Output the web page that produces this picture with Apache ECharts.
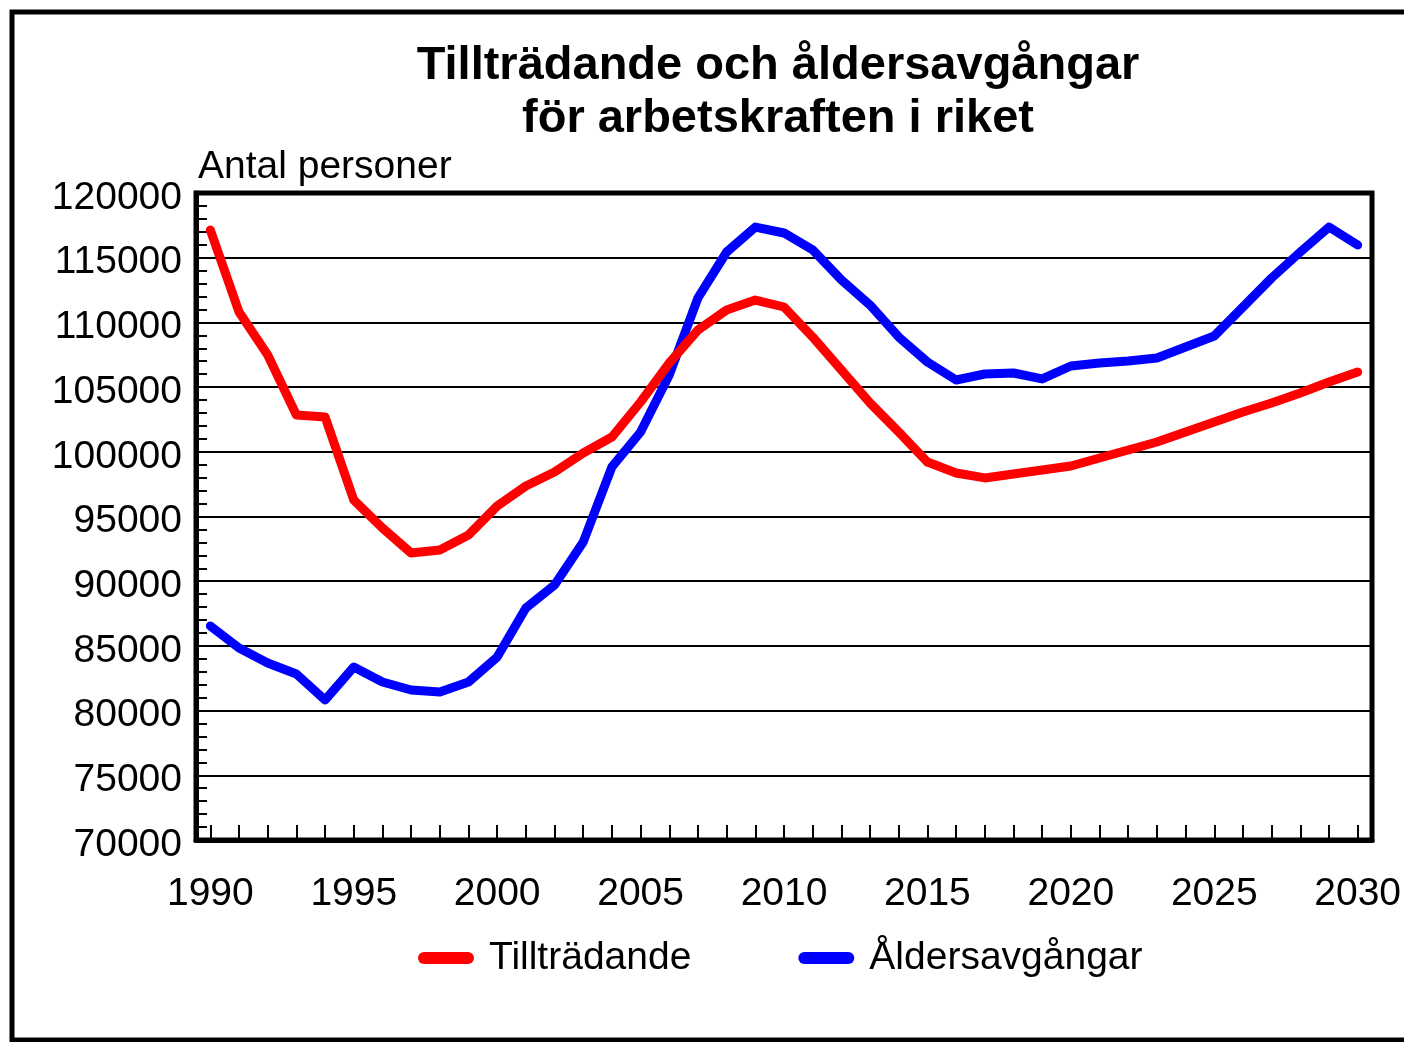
<!DOCTYPE html>
<html>
<head>
<meta charset="utf-8">
<script src="https://cdn.jsdelivr.net/npm/echarts@6/dist/echarts.min.js"></script>
<style>
  html, body { margin: 0; padding: 0; background: #fff; }
  #chart { width: 1404px; height: 1042px; }
</style>
</head>
<body>
<div id="chart"></div>
<script>
// år 1990-2030
const years = [];
for (let y = 1990; y <= 2030; y++) years.push(String(y));

const tilltradande = [
  117140, 110800, 107480, 102840, 102690, 96280, 94110, 92180, 92410, 93570,
  95810, 97360, 98440, 99910, 101140, 103850, 106860, 109410, 110960, 111730,
  111190, 108870, 106320, 103770, 101530, 99210, 98360, 97980, 98280, 98590,
  98900, 99520, 100140, 100760, 101530, 102300, 103080, 103770, 104540, 105390,
  106170
];

const aldersavgangar = [
  86540, 84840, 83680, 82830, 80820, 83370, 82210, 81590, 81440, 82210,
  84140, 87930, 89710, 93030, 98830, 101530, 105940, 111890, 115440, 117370,
  116910, 115600, 113280, 111340, 108870, 106940, 105550, 106010, 106090, 105630,
  106630, 106860, 107020, 107250, 108100, 108950, 111190, 113430, 115440, 117370,
  115980
];

const seriesNames = ['Tillträdande', 'Åldersavgångar'];
const titleLines = ['Tillträdande och åldersavgångar', 'för arbetskraften i riket'];
const yAxisName = 'Antal personer';

const font = '"Liberation Sans", Arial, sans-serif';
const chart = echarts.init(document.getElementById('chart'));

const capsule = 'path://M6,0 L50,0 A6,6 0 0 1 50,12 L6,12 A6,6 0 0 1 6,0 Z';

chart.setOption({
  backgroundColor: '#fff',
  animation: false,
  textStyle: { fontFamily: font },
  graphic: [
    {
      type: 'rect',
      shape: { x: 12, y: 12, width: 1500, height: 1028 },
      style: { fill: 'none', stroke: '#000', lineWidth: 5 },
      silent: true
    },
    {
      type: 'text',
      style: {
        x: 778, y: 40,
        text: titleLines.join('\n'),
        fontFamily: font, fontSize: 47, fontWeight: 'bold',
        lineHeight: 53, fill: '#000',
        textAlign: 'center', textVerticalAlign: 'top'
      }
    },
    {
      type: 'text',
      style: {
        x: 198, y: 148,
        text: yAxisName,
        fontFamily: font, fontSize: 39, lineHeight: 39, fill: '#000',
        textAlign: 'left', textVerticalAlign: 'top'
      }
    }
  ],
  legend: {
    data: seriesNames,
    left: 418,
    top: 938,
    padding: 0,
    itemWidth: 56,
    itemHeight: 12,
    itemGap: 107,
    icon: capsule,
    textStyle: { fontFamily: font, fontSize: 39, color: '#000', lineHeight: 40, padding: [0, 0, 0, 10] }
  },
  grid: {
    left: 196, right: 27, top: 193, bottom: 202,
    show: true, borderColor: '#000', borderWidth: 5,
    containLabel: false
  },
  xAxis: {
    type: 'category',
    data: years,
    boundaryGap: true,
    axisLine: { show: true, lineStyle: { color: '#000', width: 5 } },
    axisTick: { show: true, inside: true, length: 15, alignWithLabel: true, interval: 0, lineStyle: { color: '#000', width: 2 } },
    axisLabel: { interval: 4, fontSize: 39, color: '#000', margin: 35, fontFamily: font },
    splitLine: { show: false }
  },
  yAxis: {
    type: 'value',
    min: 70000, max: 120000, interval: 5000,
    axisLine: { show: true, lineStyle: { color: '#000', width: 5 } },
    axisTick: { show: true, inside: true, length: 17, lineStyle: { color: '#000', width: 2 } },
    minorTick: { show: true, splitNumber: 5, length: 11, lineStyle: { color: '#000', width: 2 } },
    axisLabel: {
      fontSize: 39, color: '#000', margin: 14, fontFamily: font,
      verticalAlign: 'top', lineHeight: 10,
      formatter: function (value) { return String(value); }
    },
    splitLine: { show: true, lineStyle: { color: '#000', width: 2 } }
  },
  series: [
    {
      name: 'Åldersavgångar',
      type: 'line',
      data: aldersavgangar,
      symbol: 'none',
      z: 2,
      itemStyle: { color: '#0000ff' },
      lineStyle: { color: '#0000ff', width: 9, cap: 'round', join: 'round' }
    },
    {
      name: 'Tillträdande',
      type: 'line',
      data: tilltradande,
      symbol: 'none',
      z: 3,
      itemStyle: { color: '#ff0000' },
      lineStyle: { color: '#ff0000', width: 9, cap: 'round', join: 'round' }
    }
  ]
});
</script>
</body>
</html>
